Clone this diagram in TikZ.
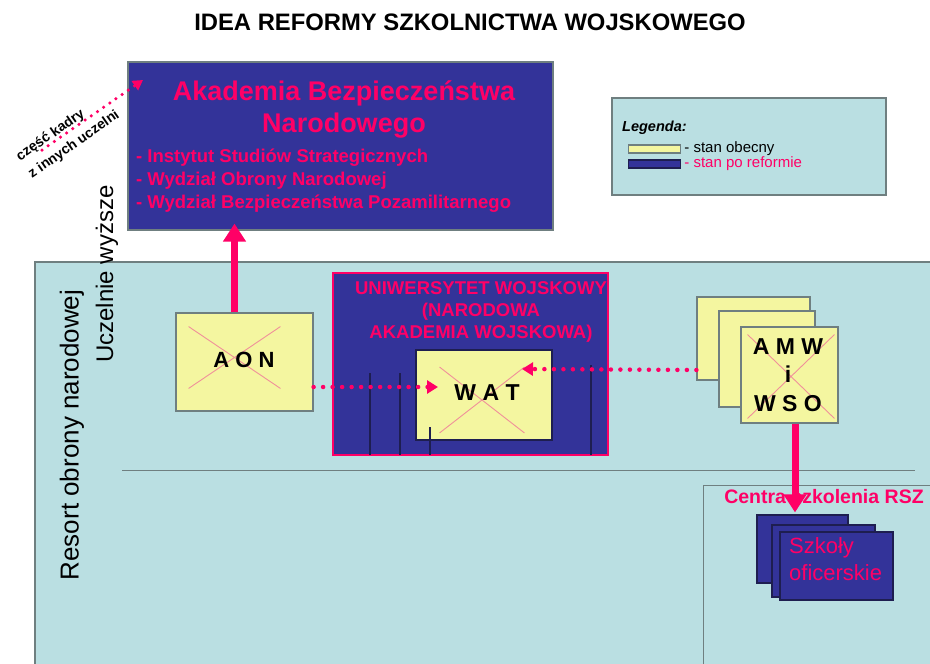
\documentclass[tikz,border=0pt]{standalone}
\usepackage{fontspec}
\setmainfont{Liberation Sans}
\usetikzlibrary{positioning,arrows.meta,calc,shapes}
\definecolor{granat}{HTML}{333399}
\definecolor{reform}{HTML}{FF0066}
\definecolor{obecny}{HTML}{F4F6A0}
\definecolor{tlo}{HTML}{BADFE2}
\definecolor{ramka}{HTML}{6F7F80}
\definecolor{krzyz}{HTML}{F0909A}
\definecolor{kreska}{HTML}{1E1E50}
\tikzset{
stary/.style={draw=ramka, fill=obecny, line width=1.2pt, inner sep=0pt, font=\bfseries},
nowy/.style={draw=ramka, fill=granat, line width=1.2pt, inner sep=0pt},
skreslony/.style={cross out, draw=krzyz, line width=0.9pt, inner sep=0pt},
napis/.style={text=reform, inner sep=0pt},
gruba/.style={draw=reform, line width=7pt, -{Triangle[width=22pt,length=18pt]}},
kropki/.style={draw=reform, line width=4.5pt, line cap=round, dash pattern=on 0pt off 9.5pt, -{Triangle[width=13pt,length=11pt]}},
}

\begin{document}
\begin{tikzpicture}[x=1pt,y=-1pt]
        \useasboundingbox (0,0) rectangle (930,664);
        % resort obrony narodowej
        \fill[tlo] (35,262) rectangle (935,670);
        \draw[ramka, line width=1.2pt] (935,262) -- (35,262) -- (35,670);
        \draw[ramka, line width=1pt] (122,470) -- (915,470);
        \draw[ramka, line width=1pt] (940,485) -- (703,485) -- (703,670);

        \node[font=\bfseries\fontsize{23.8}{28}\selectfont] (tytul) at (470,22) {IDEA REFORMY SZKOLNICTWA WOJSKOWEGO};

        \node[nowy, minimum width=425pt, minimum height=168pt] (abn) at (340.5,146) {};
        \node[napis, font=\bfseries\fontsize{27}{32}\selectfont, align=center] (abnnazwa) at (344,109) {Akademia Bezpieczeństwa\\Narodowego};
        \node[napis, font=\bfseries\fontsize{18.5}{23}\selectfont, align=left, anchor=west] (abnwydz) at (136,181)
            {- Instytut Studiów Strategicznych\\- Wydział Obrony Narodowej\\- Wydział Bezpieczeństwa Pozamilitarnego};

        \node[draw=ramka, fill=tlo, line width=1.2pt, minimum width=274pt, minimum height=97pt] (legenda) at (749,146.5) {};
        \node[font=\bfseries\itshape\fontsize{14.5}{16}\selectfont, anchor=west, inner sep=0pt] (legtyt) at (622,128) {Legenda:};
        \node[stary, minimum width=52pt, minimum height=8pt, anchor=west] (legstary) at (628,149) {};
        \node[nowy, draw=kreska, minimum width=52pt, minimum height=8pt, anchor=west] (legnowy) at (628,164) {};
        \node[right=3pt of legstary, font=\fontsize{15}{16}\selectfont, inner sep=0pt] (legstarytxt) {- stan obecny};
        \node[right=3pt of legnowy, napis, font=\fontsize{15}{16}\selectfont] (legnowytxt) {- stan po reformie};

        \node[rotate=90, font=\fontsize{26}{30}\selectfont] (resort) at (72,435) {Resort obrony narodowej};
        \node[rotate=90, font=\fontsize{24}{30}\selectfont] (uczelnie) at (107,274) {Uczelnie wyższe};

        \node[rotate=35, font=\bfseries\fontsize{14}{21}\selectfont, align=left, inner sep=0pt] (kadry) at (68,136) {część kadry\\z innych uczelni};
        \coordinate (kadryod) at (42,150);
        \coordinate (kadrydo) at (143,80);

        \node[stary, minimum width=137pt, minimum height=98pt] (aon) at (244.5,362) {};
        \node[skreslony, minimum width=91pt, minimum height=61pt] (aonx) at (234.5,357.5) {};
        \node[font=\bfseries\fontsize{22}{26}\selectfont] (aontxt) at (244,360) {A O N};

        \node[draw=reform, fill=granat, line width=1.5pt, minimum width=275pt, minimum height=182pt] (uw) at (470.5,364) {};
        \node[napis, font=\bfseries\fontsize{18.5}{22}\selectfont, align=center] (uwtxt) at (481,312) {UNIWERSYTET WOJSKOWY\\(NARODOWA\\AKADEMIA WOJSKOWA)};
        \foreach \x/\y in {370/373, 400/373, 591/365}
            \draw[kreska, line width=1.5pt] (\x,\y) -- (\x,455);
        \node[stary, draw=kreska, minimum width=136pt, minimum height=90pt] (wat) at (484,395) {};
        \node[skreslony, minimum width=84pt, minimum height=65pt] (watx) at (482,400) {};
        \node[font=\bfseries\fontsize{23}{26}\selectfont] (wattxt) at (487,393) {W A T};
        \draw[kreska, line width=1.5pt] (430,427) -- (430,455);
        \coordinate (watod) at (438,387);
        \coordinate (watdo) at (522,369);

        \node[stary, minimum width=113pt, minimum height=83pt] (amw1) at (753.5,338.5) {};
        \node[stary, minimum width=96pt, minimum height=96pt] (amw2) at (767,359) {};
        \node[stary, minimum width=97pt, minimum height=96pt] (amw) at (789.5,375) {};
        \node[skreslony, minimum width=86pt, minimum height=83pt] (amwx) at (791,376.5) {};
        \node[font=\bfseries\fontsize{23}{28.5}\selectfont, align=center] (amwtxt) at (788,375) {A M W\\i\\W S O};

        \node[napis, font=\bfseries\fontsize{19.5}{22}\selectfont] (centra) at (824,497) {Centra szkolenia RSZ};
        \node[nowy, draw=kreska, minimum width=91pt, minimum height=68pt] (szk1) at (802.5,549) {};
        \node[nowy, draw=kreska, minimum width=103pt, minimum height=72pt] (szk2) at (823.5,561) {};
        \node[nowy, draw=kreska, minimum width=113pt, minimum height=68pt] (szk) at (836.5,566) {};
        \node[napis, font=\fontsize{22}{27}\selectfont, align=left, anchor=west] (szktxt) at (789,559) {Szkoły\\oficerskie};

        \begin{scope}
        \draw[gruba] ([xshift=-10pt]aon.north) -- ([xshift=-10pt,yshift=7pt]aon.north |- abn.south);
        \draw[gruba] ([xshift=5.5pt]amw.south) -- ([xshift=5.5pt,yshift=2pt]amw.south |- szk1.north);
        \draw[kropki] ([yshift=-25pt]aon.east) -- (watod);
        \draw[kropki] ([yshift=-31.5pt]amw1.west) -- (watdo);
        \draw[kropki, line width=3.5pt, dash pattern=on 0pt off 7.5pt, -{Triangle[width=11pt,length=10pt]}] (kadryod) -- (kadrydo);
        \end{scope}
\end{tikzpicture}
\end{document}
